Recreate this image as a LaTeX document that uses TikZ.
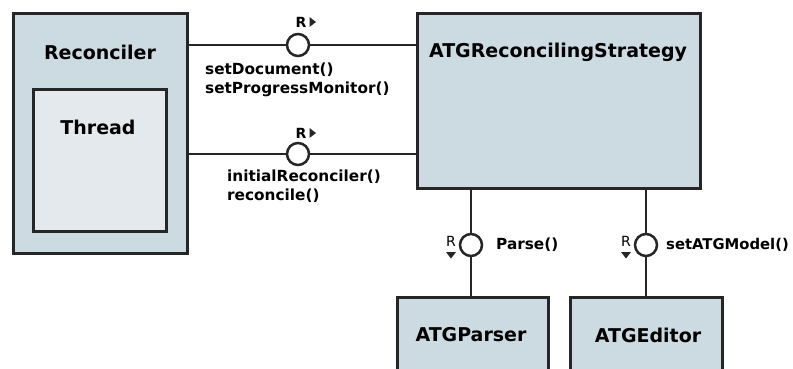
\documentclass[tikz,border=0pt]{standalone}
\usepackage{fontspec}
\setmainfont{DejaVu Sans}
\begin{document}
\begin{tikzpicture}[x=1pt,y=-1pt,
  compbox/.style={draw=black!85, line width=2.8pt, fill=boxfill, anchor=north west, inner sep=0pt},
  boxtitle/.style={font=\fontsize{19}{22}\selectfont\bfseries, inner sep=0pt},
  oplabel/.style={font=\fontsize{15.3}{18}\selectfont\bfseries, anchor=west, inner sep=0pt},
  iface/.style={circle, draw=black!85, fill=white, line width=2.5pt, minimum size=22pt, inner sep=0pt},
  wire/.style={draw=black!85, line width=2.8pt},
  rtag/.style={font=\fontsize{14}{16}\selectfont, inner sep=0pt},
  tip/.style={fill=black!85}]
\definecolor{boxfill}{HTML}{CCDBE2}
\definecolor{innerfill}{HTML}{E4E9ED}
\clip (0,0) rectangle (793,368);
\fill[white] (0,0) rectangle (793,368);

% components
\node[compbox, minimum width=174pt, minimum height=240pt] (rec) at (12,12) {};
\node[compbox, fill=innerfill, minimum width=133pt, minimum height=142pt] (thr) at (32,88) {};
\node[compbox, minimum width=283pt, minimum height=175pt] (strat) at (416,12) {};
\node[compbox, minimum width=151pt, minimum height=100pt] (parser) at (396,296) {};
\node[compbox, minimum width=152pt, minimum height=100pt] (editor) at (569,296) {};

\node[boxtitle] (recT) at (100,52) {Reconciler};
\node[boxtitle] (thrT) at (98,127) {Thread};
\node[boxtitle] (stratT) at (558,52) {ATGReconcilingStrategy};
\node[boxtitle] (parserT) at (471,335) {ATGParser};
\node[boxtitle] (editorT) at (648,335) {ATGEditor};

% provided/required interfaces
\node[iface] (i1) at (298,45) {};
\node[iface] (i2) at (298,154) {};
\node[iface] (i3) at (471,245) {};
\node[iface] (i4) at (646,245) {};

\draw[wire] (rec.east |- i1) -- (i1.west);
\draw[wire] (i1.east) -- (strat.west |- i1);
\draw[wire] (rec.east |- i2) -- (i2.west);
\draw[wire] (i2.east) -- (strat.west |- i2);
\draw[wire] (strat.south -| i3) -- (i3.north);
\draw[wire] (i3.south) -- (parser.north -| i3);
\draw[wire] (strat.south -| i4) -- (i4.north);
\draw[wire] (i4.south) -- (editor.north -| i4);

% direction tags
\node[rtag, font=\fontsize{14}{16}\selectfont\bfseries] (r1) at (301,22) {R};
\fill[tip] (309.5,17) -- (316,22) -- (309.5,27) -- cycle;
\node[rtag, font=\fontsize{14}{16}\selectfont\bfseries] (r2) at (301,133) {R};
\fill[tip] (309.5,128) -- (316,133) -- (309.5,138) -- cycle;
\node[rtag] (r3) at (451,241) {R};
\fill[tip] (446,252) -- (456,252) -- (451,258.5) -- cycle;
\node[rtag] (r4) at (626,241) {R};
\fill[tip] (621,252) -- (631,252) -- (626,258.5) -- cycle;

% operation labels
\node[oplabel] (op1) at (205,70) {setDocument()};
\node[oplabel] (op2) at (205,89) {setProgressMonitor()};
\node[oplabel] (op3) at (227,177) {initialReconciler()};
\node[oplabel] (op4) at (227,196) {reconcile()};
\node[oplabel] (op5) at (496,245) {Parse()};
\node[oplabel, font=\fontsize{14.8}{18}\selectfont\bfseries] (op6) at (666,245) {setATGModel()};
\end{tikzpicture}
\end{document}
